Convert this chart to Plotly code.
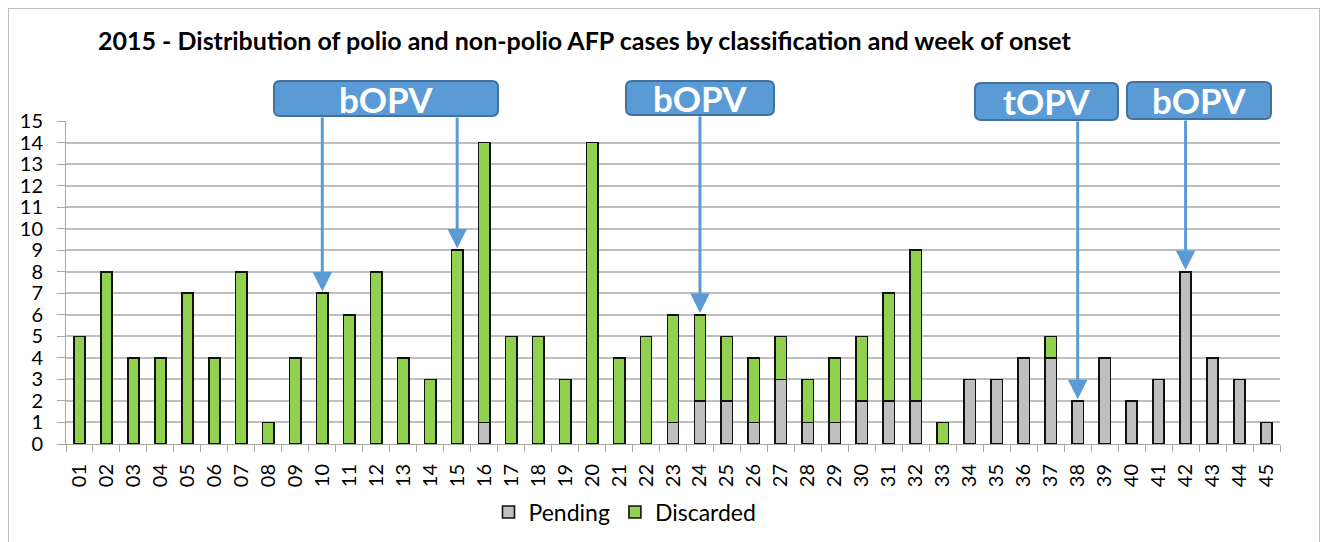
import plotly.graph_objects as go

weeks = [f"{i:02d}" for i in range(1, 46)]
pending = [0, 0, 0, 0, 0, 0, 0, 0, 0, 0, 0, 0, 0, 0, 0, 1, 0, 0, 0, 0, 0, 0,
           1, 2, 2, 1, 3, 1, 1, 2, 2, 2, 0, 3, 3, 4, 4, 2, 4, 2, 3, 8, 4, 3, 1]
discarded = [5, 8, 4, 4, 7, 4, 8, 1, 4, 7, 6, 8, 4, 3, 9, 13, 5, 5, 3, 14, 4, 5,
             5, 4, 3, 3, 2, 2, 3, 3, 5, 7, 1, 0, 0, 0, 1, 0, 0, 0, 0, 0, 0, 0, 0]

# campaign callouts: label, target weeks
callouts = [("bOPV", ["10", "15"]), ("bOPV", ["24"]), ("tOPV", ["38"]), ("bOPV", ["42"])]

OFF = 8  # default page body margin
W, H = 1328 - OFF, 542 - OFF
# target screen pixels -> figure pixels
def sx(x):
    return x - OFF

PX0, PX1, PY0, PY1 = sx(66), sx(1280), sx(121), sx(444)
L, R, T, B = PX0, W - PX1, PY0, H - PY1
YMAX = 15

def px(x):
    return (sx(x) - PX0) / (PX1 - PX0)

def py(y):
    return (PY1 - sx(y)) / (PY1 - PY0)

FONT = "Lato"
fig = go.Figure()
fig.add_trace(go.Bar(x=weeks, y=pending, name="Pending",
                     marker=dict(color="#BFBFBF", line=dict(color="#111111", width=1.6))))
fig.add_trace(go.Bar(x=weeks, y=discarded, name="Discarded",
                     marker=dict(color="#92D050", line=dict(color="#111111", width=1.6))))

def rounded_rect(x0, y0, x1, y1, r=6):
    def P(x, y):
        return f"{px(x):.5f},{py(y):.5f}"
    return (f"M {P(x0 + r, y0)} L {P(x1 - r, y0)} Q {P(x1, y0)} {P(x1, y0 + r)} "
            f"L {P(x1, y1 - r)} Q {P(x1, y1)} {P(x1 - r, y1)} "
            f"L {P(x0 + r, y1)} Q {P(x0, y1)} {P(x0, y1 - r)} "
            f"L {P(x0, y0 + r)} Q {P(x0, y0)} {P(x0 + r, y0)} Z")

boxes = [(274, 81, 498, 116), (626, 81, 774, 115), (975, 83, 1118, 120), (1127, 82, 1271, 119)]

shapes = []
annotations = []
for (label, targets), (x0, y0, x1, y1) in zip(callouts, boxes):
    shapes.append(dict(type="path", xref="paper", yref="paper", path=rounded_rect(x0, y0, x1, y1),
                       fillcolor="#5B9BD5", line=dict(color="#41719C", width=2), layer="above"))
    annotations.append(dict(x=px((x0 + x1) / 2), y=py((y0 + y1) / 2), xref="paper", yref="paper",
                            text=f"<b>{label}</b>", showarrow=False,
                            font=dict(family=FONT, size=35, color="white"),
                            xanchor="center", yanchor="middle"))
    for wk in targets:
        idx = weeks.index(wk)
        top = pending[idx] + discarded[idx] + 0.08
        tip_px = PY1 - top * (PY1 - PY0) / YMAX
        annotations.append(dict(x=idx, y=top, xref="x", yref="y",
                                ax=0, ay=-(tip_px - sx(y1)), axref="pixel", ayref="pixel",
                                showarrow=True, arrowhead=2, arrowsize=1.3, arrowwidth=3,
                                arrowcolor="#5B9BD5", text=""))

# outer chart border
shapes.append(dict(type="rect", xref="paper", yref="paper", x0=px(8), x1=px(1320), y0=py(8), y1=py(600),
                   line=dict(color="#A6A6A6", width=1.5), fillcolor="rgba(0,0,0,0)", layer="below"))

fig.update_layout(
    width=W, height=H,
    margin=dict(l=L, r=R, t=T, b=B, autoexpand=False),
    barmode="stack", bargap=0.58,
    plot_bgcolor="white", paper_bgcolor="white",
    font=dict(family=FONT, color="black"),
    title=dict(text="<b>2015 - Distribution of polio and non-polio AFP cases by classification and week of onset</b>",
               x=sx(98) / W, xanchor="left", xref="container", y=1 - sx(41) / H, yanchor="middle",
               yref="container", font=dict(family=FONT, size=25, color="black")),
    legend=dict(orientation="h", x=px(625), xanchor="center", y=py(512), yanchor="middle",
                font=dict(family=FONT, size=23), itemwidth=30, traceorder="normal"),
    shapes=shapes, annotations=annotations,
    xaxis=dict(type="category", tickangle=-90, tickfont=dict(family=FONT, size=20),
               ticks="outside", ticklen=7, tickcolor="#A6A6A6", tickson="boundaries",
               showline=True, linecolor="#A6A6A6", linewidth=1, showgrid=False,
               automargin=False, ticklabelstandoff=11),
    yaxis=dict(range=[0, YMAX], dtick=1, tickfont=dict(family=FONT, size=20),
               ticks="outside", ticklen=8, tickcolor="#A6A6A6",
               showgrid=True, gridcolor="#BFBFBF", gridwidth=1.5,
               showline=True, linecolor="#A6A6A6", linewidth=1, zeroline=False,
               automargin=False, ticklabelstandoff=10),
    showlegend=True,
)

fig.write_html("out.html")
